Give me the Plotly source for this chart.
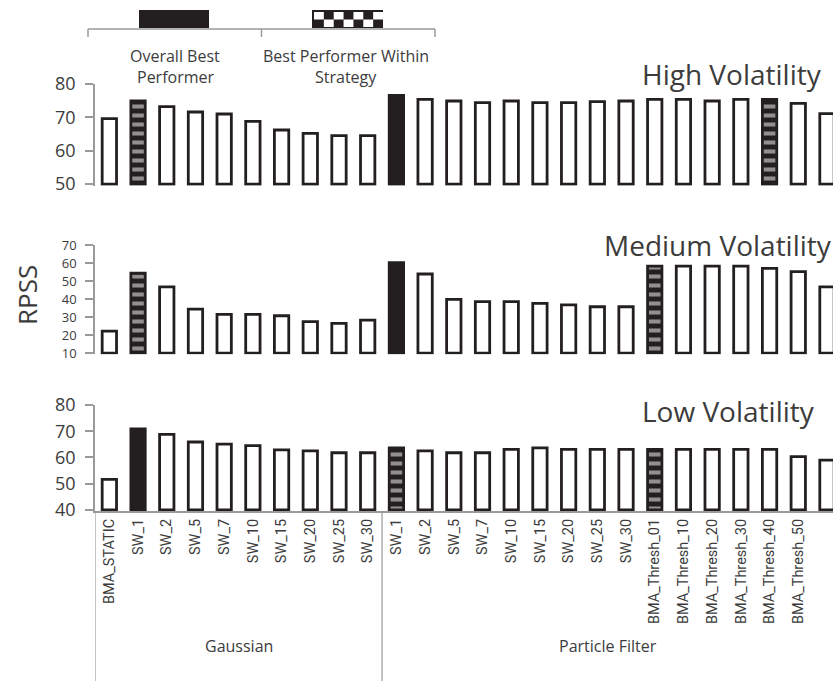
import plotly.graph_objects as go

# ---------------- data ----------------
categories = ["BMA_STATIC", "SW_1", "SW_2", "SW_5", "SW_7", "SW_10", "SW_15", "SW_20", "SW_25", "SW_30",
              "SW_1", "SW_2", "SW_5", "SW_7", "SW_10", "SW_15", "SW_20", "SW_25", "SW_30",
              "BMA_Thresh_01", "BMA_Thresh_10", "BMA_Thresh_20", "BMA_Thresh_30", "BMA_Thresh_40",
              "BMA_Thresh_50", "SBC_PF"]
group_names = ["Gaussian", "Particle Filter"]
group_sizes = [10, 16]

high = [69.6, 74.9, 73.2, 71.6, 71.0, 68.8, 66.2, 65.2, 64.5, 64.5,
        76.6, 75.4, 74.9, 74.4, 74.9, 74.4, 74.4, 74.7, 74.9,
        75.4, 75.4, 74.9, 75.4, 75.4, 74.2, 71.1]
medium = [22.2, 54.3, 46.8, 34.4, 31.5, 31.5, 30.7, 27.4, 26.5, 28.3,
          60.2, 53.9, 39.8, 38.5, 38.5, 37.6, 36.7, 35.7, 35.7,
          58.3, 58.3, 58.3, 58.3, 57.0, 55.2, 46.8]
low = [51.7, 70.9, 68.8, 65.9, 65.1, 64.5, 62.9, 62.5, 61.8, 61.8,
       63.7, 62.5, 61.8, 61.8, 63.1, 63.7, 63.1, 63.1, 63.1,
       63.1, 63.1, 63.1, 63.1, 63.1, 60.3, 59.0]

# o = ordinary, b = overall best performer, c = best performer within strategy
high_style = ["o", "c", "o", "o", "o", "o", "o", "o", "o", "o",
              "b", "o", "o", "o", "o", "o", "o", "o", "o",
              "o", "o", "o", "o", "c", "o", "o"]
medium_style = ["o", "c", "o", "o", "o", "o", "o", "o", "o", "o",
                "b", "o", "o", "o", "o", "o", "o", "o", "o",
                "c", "o", "o", "o", "o", "o", "o"]
low_style = ["o", "b", "o", "o", "o", "o", "o", "o", "o", "o",
             "c", "o", "o", "o", "o", "o", "o", "o", "o",
             "c", "o", "o", "o", "o", "o", "o"]

panel_titles = ["High Volatility", "Medium Volatility", "Low Volatility"]
high_ticks = [50, 60, 70, 80]
medium_ticks = [10, 20, 30, 40, 50, 60, 70]
low_ticks = [40, 50, 60, 70, 80]
legend_labels = [["Overall Best", "Performer"], ["Best Performer Within", "Strategy"]]
y_title = "RPSS"

# ---------------- styling ----------------
W, H = 833, 681
INK = "#231f20"
GRAY = "#9a9a9a"
TXT = "#3c3c3c"
FONT = "Open Sans"
TICKFONT = "Roboto"


def px(x):
    return x / W


def py(y):
    return 1 - y / H


n = len(categories)
xdom = [px(95), 1.0]
xrange_ = [-0.5, 25.21]

panels = [
    (high, high_style, high_ticks, [49.5, 80], [py(185.7), py(84)], py(74), 640, 18),
    (medium, medium_style, medium_ticks, [9.3, 70], [py(354.3), py(245)], py(245), 602, 13),
    (low, low_style, low_ticks, [39.5, 80], [py(511.3), py(405)], py(411), 640, 18),
]

fig = go.Figure()
annotations = []
shapes = []

for i, (vals, style, ticks, yr, ydom, title_y, title_x, tfs) in enumerate(panels):
    k = "" if i == 0 else str(i + 1)
    base = ticks[0]
    colors = ["white" if s == "o" else INK for s in style]
    pshapes = ["-" if s == "c" else "" for s in style]
    fig.add_trace(go.Bar(
        x=list(range(n)), y=[v - base for v in vals], base=base,
        width=0.5,
        marker=dict(color=colors, line=dict(color=INK, width=2.8),
                    pattern=dict(shape=pshapes, fgcolor="white", size=9,
                                 solidity=0.45, fillmode="overlay")),
        xaxis="x" + k, yaxis="y" + k, showlegend=False, hoverinfo="skip",
    ))
    xa = dict(domain=xdom, range=xrange_, autorange=False, anchor="y" + k, showgrid=False,
              zeroline=False, showticklabels=False, ticks="", showline=False,
              automargin=False, fixedrange=True)
    if i == 2:
        xa.update(showticklabels=True, tickvals=list(range(n)), ticktext=categories,
                  tickangle=-90, showline=True, linecolor=GRAY, linewidth=1.5,
                  tickfont=dict(family=TICKFONT, size=14.5, color=TXT))
    fig.layout["xaxis" + k] = xa
    fig.layout["yaxis" + k] = dict(
        domain=ydom, range=yr, autorange=False, anchor="x" + k, tickvals=ticks, ticks="outside",
        ticklen=8, tickcolor=GRAY, tickwidth=1.5, showline=True, linecolor=GRAY,
        linewidth=1.5, showgrid=False, zeroline=False, automargin=False,
        tickfont=dict(family=FONT, size=tfs, color=TXT), ticklabelstandoff=6,
        fixedrange=True)
    annotations.append(dict(text=panel_titles[i], x=px(title_x), y=title_y, xref="paper",
                            yref="paper", xanchor="left", yanchor="middle", showarrow=False,
                            font=dict(family=FONT, size=28, color=TXT)))

# category separator ticks below the bottom axis
fig.layout["xaxis4"] = dict(domain=xdom, range=xrange_, autorange=False, overlaying="x3",
                            anchor="y3", side="bottom",
                            tickvals=[j - 0.5 for j in range(n + 1)],
                            ticks="outside", ticklen=115, tickcolor=GRAY, tickwidth=1.2,
                            showticklabels=False, showgrid=False, zeroline=False,
                            showline=False, automargin=False, fixedrange=True)

# group separators and labels
start = 0
for g, size in zip(group_names, group_sizes):
    shapes.append(dict(type="line", xref="x3", yref="paper", x0=start - 0.5, x1=start - 0.5,
                       y0=py(511.3), y1=0, line=dict(color=GRAY, width=1.2)))
    end = start + size
    center = (start - 0.5 + min(end - 0.5, xrange_[1])) / 2
    annotations.append(dict(text=g, x=center, xref="x3", y=py(646), yref="paper",
                            xanchor="center", yanchor="middle",
                            showarrow=False, font=dict(family=FONT, size=16, color=TXT)))
    start = end

# legend (top)
shapes.append(dict(type="line", xref="paper", yref="paper", x0=px(88), x1=px(435),
                   y0=py(29), y1=py(29), line=dict(color=GRAY, width=1.5)))
for xx in (88, 261.5, 435):
    shapes.append(dict(type="line", xref="paper", yref="paper", x0=px(xx), x1=px(xx),
                       y0=py(29), y1=py(37), line=dict(color=GRAY, width=1.5)))
shapes.append(dict(type="rect", xref="paper", yref="paper", x0=px(139), x1=px(209),
                   y0=py(28), y1=py(10), fillcolor=INK, line=dict(width=0)))
shapes.append(dict(type="rect", xref="paper", yref="paper", x0=px(312), x1=px(383),
                   y0=py(28), y1=py(10), fillcolor=INK, line=dict(width=0)))
cw = (383 - 314) / 7
for r in range(2):
    for c in range(7):
        if (r + c) % 2 == 0:
            x0 = 314 + c * cw
            y0 = 12 + r * 7.5
            shapes.append(dict(type="rect", xref="paper", yref="paper", x0=px(x0),
                               x1=px(x0 + cw), y0=py(y0 + 7.5), y1=py(y0),
                               fillcolor="white", line=dict(width=0)))
for cx, lines in zip((175, 346), legend_labels):
    for j, t in enumerate(lines):
        annotations.append(dict(text=t, x=px(cx), y=py(56 + 21 * j), xref="paper", yref="paper",
                                showarrow=False, xanchor="center", yanchor="middle",
                                font=dict(family=FONT, size=16, color=TXT)))

annotations.append(dict(text=y_title, x=px(27), y=py(295), xref="paper", yref="paper",
                        textangle=-90, showarrow=False, xanchor="center", yanchor="middle",
                        font=dict(family=FONT, size=26, color=TXT)))

fig.update_layout(width=W, height=H, margin=dict(l=0, r=0, t=0, b=0), template="none",
                  paper_bgcolor="white", plot_bgcolor="white", bargap=0.5,
                  annotations=annotations, shapes=shapes)

fig.write_html("out.html", config={"displayModeBar": False},
               post_script="document.body.style.margin='0';")
